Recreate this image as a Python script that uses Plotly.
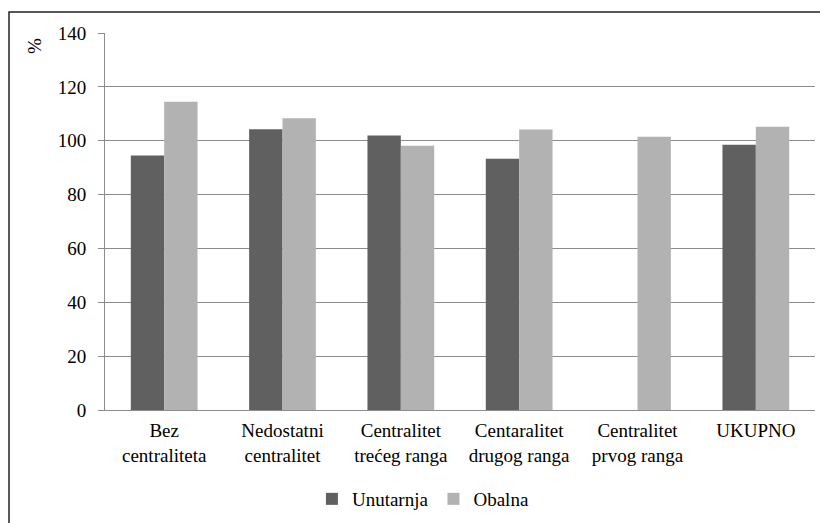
import plotly.graph_objects as go

categories = ["Bez<br>centraliteta", "Nedostatni<br>centralitet", "Centralitet<br>trećeg ranga",
              "Centaralitet<br>drugog ranga", "Centralitet<br>prvog ranga", "UKUPNO"]
unutarnja = [94.5, 104.3, 101.9, 93.3, None, 98.5]
obalna = [114.5, 108.3, 98.1, 104.2, 101.5, 105.2]
y_ticks = [0, 20, 40, 60, 80, 100, 120, 140]

FONT = "Liberation Serif"
FS = 19
font_main = dict(family=FONT, size=FS, color="black")

fig = go.Figure()
fig.add_trace(go.Bar(name="Unutarnja", x=categories, y=unutarnja, marker_color="#606060",
                     marker_line_width=0))
fig.add_trace(go.Bar(name="Obalna", x=categories, y=obalna, marker_color="#b2b2b2",
                     marker_line_width=0))

fig.update_layout(
    width=820, height=515,
    barmode="group", bargap=0.436, bargroupgap=0,
    plot_bgcolor="white", paper_bgcolor="white",
    margin=dict(l=97, r=13, t=25, b=113, autoexpand=False),
    font=font_main,
    showlegend=True,
    legend=dict(orientation="h", x=0.506, xref="container", xanchor="center",
                y=0.0466, yref="container", yanchor="middle",
                font=font_main, itemwidth=30, traceorder="normal"),
    xaxis=dict(showgrid=False, showline=True, linecolor="#8c8c8c", linewidth=1,
               ticks="", tickangle=0, tickfont=font_main, ticklabelstandoff=3,
               automargin=False),
    yaxis=dict(range=[0, 140], tickvals=y_ticks, showgrid=True, gridcolor="#8c8c8c",
               gridwidth=1, showline=True, linecolor="#8c8c8c", linewidth=1,
               ticks="outside", ticklen=6, tickcolor="#8c8c8c", zeroline=False,
               ticklabelstandoff=8, tickfont=font_main, automargin=False),
)

fig.add_annotation(text="%", xref="paper", yref="paper", x=-0.1, y=0.9655,
                   xanchor="center", yanchor="middle",
                   showarrow=False, textangle=-90, font=font_main)

fig.add_shape(type="rect", xref="paper", yref="paper",
              x0=-0.1352, x1=1.05, y0=-0.35, y1=1.0557,
              line=dict(color="#222222", width=1.5), fillcolor="rgba(0,0,0,0)", layer="above")

fig.write_html("out.html")
